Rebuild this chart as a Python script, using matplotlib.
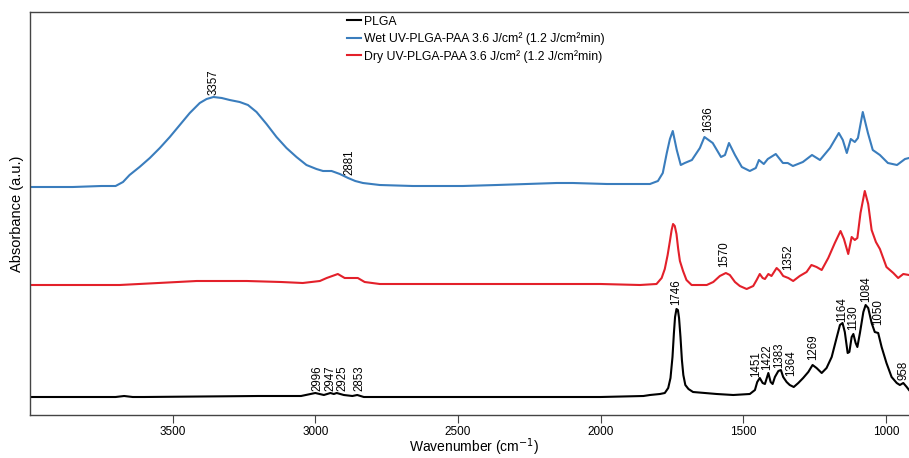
import matplotlib
matplotlib.use("Agg")
import matplotlib.pyplot as plt

plt.rcParams['font.family'] = ['Liberation Sans', 'DejaVu Sans']

# ---------------- data ----------------
wn_blue = [4000, 3850, 3750, 3700, 3674, 3651, 3616, 3580, 3545, 3510, 3475, 3440, 3405,
           3381, 3357, 3328, 3300, 3265, 3236, 3206, 3171, 3136, 3101, 3066, 3031, 2996,
           2973, 2943, 2914, 2885, 2860, 2833, 2774, 2658, 2483, 2364, 2154, 2097, 1978,
           1827, 1799, 1782, 1768, 1757,
           1747, 1733, 1719, 1705, 1680, 1652, 1636, 1607, 1578, 1564, 1550, 1529, 1505,
           1477, 1456, 1445, 1428, 1414, 1386, 1361, 1344, 1326, 1291, 1259, 1231, 1196,
           1165, 1151, 1137, 1123, 1109, 1098, 1081, 1063, 1046, 1021, 993, 961, 933, 919]
ab_blue = [2.30, 2.30, 2.31, 2.31, 2.35, 2.42, 2.50, 2.59, 2.69, 2.80, 2.92, 3.04, 3.14,
           3.18, 3.20, 3.19, 3.17, 3.15, 3.12, 3.05, 2.93, 2.80, 2.69, 2.60, 2.52, 2.48,
           2.46, 2.46, 2.43, 2.39, 2.36, 2.34, 2.32, 2.31, 2.31, 2.32, 2.34, 2.34, 2.33,
           2.33, 2.36, 2.44, 2.64, 2.78,
           2.86, 2.67, 2.52, 2.54, 2.57, 2.69, 2.80, 2.74, 2.60, 2.62, 2.74, 2.62, 2.50,
           2.46, 2.49, 2.57, 2.53, 2.58, 2.63, 2.54, 2.54, 2.51, 2.55, 2.62, 2.57, 2.69,
           2.84, 2.77, 2.64, 2.78, 2.75, 2.79, 3.05, 2.84, 2.67, 2.62, 2.54, 2.52, 2.58, 2.59]

wn_red = [4000, 3686, 3550, 3416, 3240, 3120, 3044, 2984, 2960, 2921, 2897, 2851, 2827,
          2774, 2400, 2000, 1862, 1804, 1786, 1775, 1765, 1757, 1751, 1746, 1740, 1734,
          1728, 1722, 1711, 1699, 1681, 1628,
          1605, 1582, 1561, 1547, 1529, 1512, 1488, 1465, 1453, 1442, 1432, 1424, 1412,
          1401, 1383, 1372, 1360, 1342, 1325, 1302, 1278, 1261, 1243, 1225, 1202, 1179,
          1159, 1147, 1132, 1120, 1109, 1100, 1089, 1074, 1062, 1050, 1035, 1021, 998,
          974, 957, 939, 919]
ab_red = [1.32, 1.32, 1.34, 1.36, 1.36, 1.35, 1.34, 1.36, 1.39, 1.43, 1.39, 1.39, 1.35,
          1.33, 1.33, 1.33, 1.32, 1.33, 1.39, 1.48, 1.62, 1.76, 1.87, 1.93, 1.91, 1.83,
          1.68, 1.56, 1.46, 1.37, 1.32, 1.32,
          1.35, 1.41, 1.44, 1.42, 1.35, 1.31, 1.28, 1.31, 1.37, 1.43, 1.39, 1.38, 1.43,
          1.41, 1.49, 1.46, 1.41, 1.39, 1.36, 1.41, 1.45, 1.52, 1.50, 1.47, 1.59, 1.74,
          1.86, 1.78, 1.63, 1.80, 1.77, 1.79, 2.04, 2.26, 2.13, 1.87, 1.75, 1.68, 1.50,
          1.44, 1.39, 1.43, 1.42]

wn_black = [4000, 3700, 3670, 3640, 3600, 3200, 3050, 3000, 2985, 2970, 2947, 2935, 2925,
            2900, 2870, 2853, 2830, 2500, 2200, 2000, 1850, 1827, 1792, 1775, 1763, 1755,
            1748, 1743, 1739, 1734, 1729, 1725, 1720, 1715, 1710, 1703, 1692, 1676, 1593,
            1535, 1477, 1459, 1451, 1442, 1432, 1424, 1412, 1404, 1397, 1389, 1377, 1368,
            1360, 1348, 1337, 1323, 1307, 1290, 1272, 1257, 1243, 1225, 1208, 1190, 1172,
            1161, 1152, 1144, 1134, 1128, 1120, 1114, 1106, 1100, 1091, 1079, 1071, 1062,
            1050, 1039, 1027, 1015, 998, 980, 962, 951, 939, 927, 919]
ab_black = [0.20, 0.20, 0.21, 0.20, 0.20, 0.21, 0.21, 0.24, 0.23, 0.22, 0.24, 0.23, 0.24,
            0.22, 0.21, 0.22, 0.20, 0.20, 0.20, 0.20, 0.21, 0.22, 0.23, 0.24, 0.29, 0.39,
            0.60, 0.84, 1.00, 1.08, 1.07, 0.99, 0.80, 0.57, 0.42, 0.32, 0.28, 0.25, 0.23,
            0.22, 0.23, 0.27, 0.35, 0.39, 0.34, 0.33, 0.44, 0.35, 0.33, 0.40, 0.46, 0.47,
            0.40, 0.35, 0.32, 0.30, 0.34, 0.39, 0.45, 0.52, 0.49, 0.44, 0.49, 0.60, 0.80,
            0.92, 0.94, 0.85, 0.64, 0.65, 0.80, 0.83, 0.74, 0.70, 0.84, 1.05, 1.12, 1.09,
            0.94, 0.85, 0.84, 0.70, 0.54, 0.40, 0.34, 0.32, 0.34, 0.30, 0.27]

series_names = ["PLGA",
                "Wet UV-PLGA-PAA 3.6 J/cm² (1.2 J/cm²min)",
                "Dry UV-PLGA-PAA 3.6 J/cm² (1.2 J/cm²min)"]

# peak annotations: text, wavenumber position, height
blue_peaks = ["3357", "2881", "1636"]
blue_peak_wn = [3357, 2879, 1624]
blue_peak_ab = [3.22, 2.42, 2.85]

red_peaks = ["1570", "1352"]
red_peak_wn = [1566, 1342]
red_peak_ab = [1.50, 1.47]

black_peaks = ["2996", "2947", "2925", "2853", "1746", "1451", "1422", "1383", "1364",
               "1269", "1164", "1130", "1084", "1050", "958"]
black_peak_wn = [2991, 2946, 2904, 2846, 1736, 1456, 1416, 1374, 1333,
                 1256, 1153, 1114, 1070, 1028, 940]
black_peak_ab = [0.26, 0.26, 0.26, 0.26, 1.12, 0.40, 0.47, 0.49, 0.41,
                 0.57, 0.95, 0.87, 1.15, 0.92, 0.37]

# ---------------- figure ----------------
fig = plt.figure(figsize=(9.09, 4.58), dpi=100)
ax = fig.add_axes([30 / 909, 1 - 415 / 458, 1 - 30 / 909, (415 - 12) / 458])

c_black = "#000000"
c_blue = "#3a7dbd"
c_red = "#e3202a"

lw = 1.5
ax.plot(wn_black, ab_black, color=c_black, lw=lw, label=series_names[0])
ax.plot(wn_blue, ab_blue, color=c_blue, lw=lw, label=series_names[1])
ax.plot(wn_red, ab_red, color=c_red, lw=lw, label=series_names[2])

fs_peak = 8.3
for t, w, a in zip(blue_peaks, blue_peak_wn, blue_peak_ab):
    ax.text(w, a, t, rotation=90, ha="center", va="bottom", fontsize=fs_peak)
for t, w, a in zip(red_peaks, red_peak_wn, red_peak_ab):
    ax.text(w, a, t, rotation=90, ha="center", va="bottom", fontsize=fs_peak)
for t, w, a in zip(black_peaks, black_peak_wn, black_peak_ab):
    ax.text(w, a, t, rotation=90, ha="center", va="bottom", fontsize=fs_peak)

ax.set_xlim(4000, 919)
ax.set_ylim(0.02, 4.05)
ax.set_xticks([3500, 3000, 2500, 2000, 1500, 1000])
ax.set_yticks([])
ax.tick_params(axis="x", direction="out", length=6, width=0.8, labelsize=8.5,
               color="#444444", pad=2)
for s in ["top", "left", "bottom"]:
    ax.spines[s].set_color("#444444")
    ax.spines[s].set_linewidth(1.0)
ax.spines["right"].set_visible(False)

fig.text(474 / 909, 1 - 452 / 458, "Wavenumber (cm$^{-1}$)", fontsize=10,
         ha="center", va="baseline")
ax.set_ylabel("Absorbance (a.u.)", fontsize=10.5, labelpad=4)

leg = fig.legend(loc="upper left", bbox_to_anchor=(338 / 909, 1 - 7 / 458),
                 frameon=False, fontsize=8.8, handlelength=1.15, handletextpad=0.3,
                 labelspacing=0.38, borderpad=0.2)

fig.savefig("out.png", dpi=100)
